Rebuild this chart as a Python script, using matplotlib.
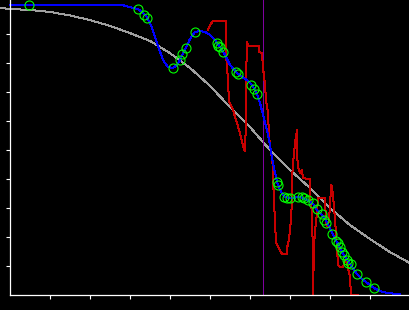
import numpy as np
import matplotlib
matplotlib.use('Agg')
import matplotlib.pyplot as plt

# smooth reference curve (gray)
ref_x = [-0.25, 0, 0.5, 1, 1.5, 2, 2.5, 3, 3.5, 4, 4.5, 5, 5.5, 6, 6.5, 7,
         7.5, 8, 8.5, 9, 9.5, 10]
ref_y = [0.990, 0.986, 0.983, 0.976, 0.964, 0.948, 0.928, 0.903, 0.876,
         0.834, 0.783, 0.721, 0.648, 0.579, 0.500, 0.431, 0.369, 0.300,
         0.241, 0.193, 0.148, 0.110]

# fitted curve (blue)
fit_x = [0, 2.8, 3.0, 3.2, 3.3, 3.425, 3.55, 3.675, 3.825, 3.95, 4.075, 4.175,
         4.25, 4.325, 4.4, 4.5, 4.625, 4.75, 4.875, 5.0, 5.125, 5.25, 5.375,
         5.5, 5.675, 5.8, 5.925, 6.05, 6.175, 6.25, 6.325, 6.425, 6.5, 6.575,
         6.675, 6.775, 6.875, 7.0, 7.25, 7.425, 7.575, 7.675, 7.8, 7.925,
         8.075, 8.2, 8.3, 8.425, 8.525, 8.675, 8.8, 8.9, 9.0, 9.1, 9.25,
         9.425, 9.75]
fit_y = [1.0, 1.0, 0.993, 0.986, 0.976, 0.959, 0.921, 0.869, 0.810, 0.786,
         0.783, 0.793, 0.810, 0.834, 0.852, 0.883, 0.907, 0.910, 0.907, 0.897,
         0.879, 0.855, 0.828, 0.793, 0.766, 0.752, 0.741, 0.724, 0.693, 0.662,
         0.621, 0.569, 0.517, 0.455, 0.390, 0.355, 0.338, 0.334, 0.338, 0.328,
         0.314, 0.293, 0.276, 0.252, 0.207, 0.176, 0.148, 0.121, 0.103, 0.072,
         0.055, 0.045, 0.034, 0.024, 0.014, 0.007, 0.003]

# observations (green circles)
obs_x = [0.475, 3.2, 3.35, 3.425, 4.075, 4.25, 4.3, 4.4, 4.625, 5.175, 5.2,
         5.25, 5.325, 5.65, 5.7, 6.025, 6.1, 6.175, 6.675, 6.7, 6.85, 6.925,
         7.0, 7.2, 7.3, 7.35, 7.45, 7.575, 7.675, 7.8, 7.85, 7.9, 8.05, 8.15,
         8.2, 8.25, 8.3, 8.35, 8.425, 8.45, 8.525, 8.675, 8.9, 9.1]
obs_y = [1.0, 0.986, 0.966, 0.955, 0.783, 0.810, 0.831, 0.852, 0.907, 0.869,
         0.859, 0.855, 0.838, 0.769, 0.762, 0.724, 0.710, 0.693, 0.390, 0.379,
         0.338, 0.334, 0.334, 0.338, 0.338, 0.334, 0.328, 0.317, 0.297, 0.279,
         0.259, 0.248, 0.210, 0.186, 0.179, 0.166, 0.148, 0.138, 0.121, 0.110,
         0.107, 0.072, 0.045, 0.024]

# noisy estimate (red)
raw_x = [4.95, 5.0, 5.075, 5.4, 5.4, 5.425, 5.45, 5.475, 5.55, 5.675, 5.775,
         5.85, 5.875, 5.9, 5.9, 5.925, 5.95, 6.225, 6.225, 6.3, 6.325, 6.35,
         6.375, 6.4, 6.45, 6.475, 6.525, 6.575, 6.575, 6.6, 6.625, 6.65, 6.7,
         6.775, 6.8, 6.925, 6.925, 6.975, 7.025, 7.05, 7.05, 7.075, 7.125,
         7.175, 7.175, 7.2, 7.25, 7.3, 7.325, 7.5, 7.5, 7.55, 7.575, 7.575,
         7.6, 7.625, 7.65, 7.675, 7.7, 7.875, 7.9, 7.95, 8.0, 8.025, 8.05,
         8.075, 8.125, 8.175, 8.2, 8.25, 8.325, 8.375, 8.425, 8.5, 8.525, 8.7]
raw_y = [0.914, 0.931, 0.945, 0.945, 0.834, 0.786, 0.741, 0.666, 0.648, 0.593,
         0.545, 0.500, 0.497, 0.603, 0.741, 0.872, 0.859, 0.859, 0.838, 0.834,
         0.786, 0.752, 0.724, 0.672, 0.628, 0.545, 0.493, 0.441, 0.397, 0.328,
         0.248, 0.183, 0.166, 0.148, 0.141, 0.141, 0.162, 0.190, 0.259, 0.328,
         0.397, 0.455, 0.524, 0.569, 0.490, 0.441, 0.421, 0.431, 0.403, 0.400,
         0.345, 0.283, 0.121, 0.0, 0.166, 0.224, 0.248, 0.283, 0.334, 0.334,
         0.248, 0.234, 0.303, 0.379, 0.372, 0.345, 0.259, 0.162, 0.103, 0.097,
         0.097, 0.121, 0.110, 0.062, 0.0, 0.0]

marker_x = 6.325

fig = plt.figure(figsize=(4.1, 3.1), dpi=100, facecolor='black')
ax = fig.add_axes([0, 0, 1, 1], facecolor='black')

lw = 0.72  # one pixel
ax.plot(ref_x, ref_y, color='#a0a0a0', lw=lw, antialiased=False)
ax.vlines(marker_x, 0, 1.05, color='#8000a0', lw=lw, antialiased=False)
ax.plot(raw_x, raw_y, color='#c80000', lw=lw, antialiased=False)
ax.plot(fit_x, fit_y, color='#0000ff', lw=lw, antialiased=False)
ax.plot(obs_x, obs_y, 'o', ms=6.5, mfc='none', mec='#00ff00', mew=0.8,
        clip_on=False)

ax.set_xlim(-0.25, 10)
ax.set_ylim(-15 / 290, 295 / 290)

for side in ['top', 'right']:
    ax.spines[side].set_visible(False)
ax.spines['left'].set_position(('data', 0))
ax.spines['bottom'].set_position(('data', 0))
ax.spines['left'].set_bounds(0, 1.1)
ax.spines['bottom'].set_bounds(0, 10)
for side in ['left', 'bottom']:
    ax.spines[side].set_color('white')
    ax.spines[side].set_linewidth(0.9)

ax.set_xticks(np.arange(1, 10))
ax.set_yticks(np.arange(1, 10) / 10)
ax.tick_params(colors='white', length=3, width=0.8, direction='out',
               labelbottom=False, labelleft=False)

fig.savefig('out.png', dpi=100, facecolor='black')
